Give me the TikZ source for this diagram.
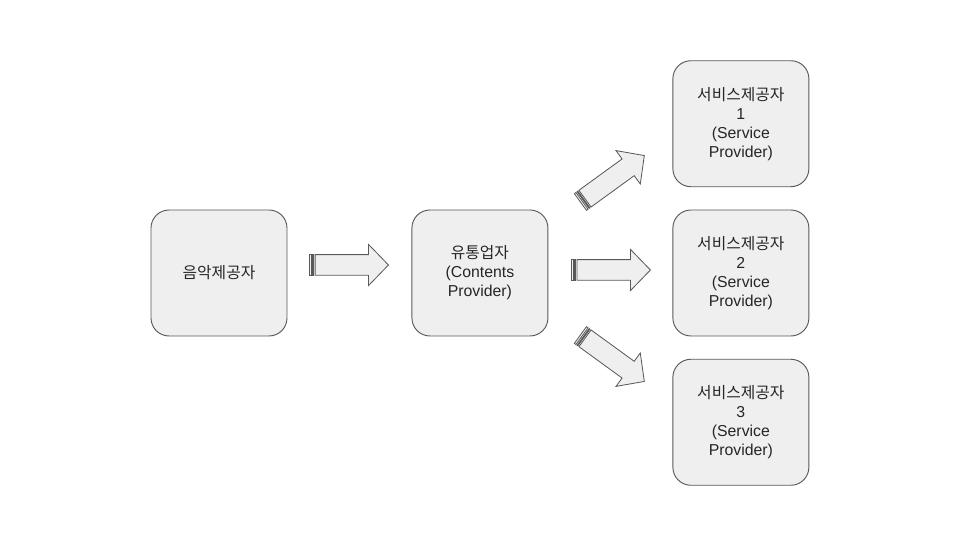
\documentclass[tikz,border=0pt]{standalone}
\usepackage{fontspec}
\setmainfont{Liberation Sans}
\newfontfamily\kr{Noto Sans CJK KR}
\usetikzlibrary{positioning,calc}

\definecolor{boxFill}{HTML}{EFEFEF}
\definecolor{boxLine}{HTML}{595959}

\begin{document}
\begin{tikzpicture}[line width=0.8pt]

\tikzset{
	company/.style={
		fill=boxFill,
		draw=boxLine,
		rounded corners=0.54cm,
		minimum width=4.08cm,
		minimum height=3.78cm,
		inner sep=0pt,
		align=center,
		text=black!85,
		font=\fontsize{13.5}{16.2}\selectfont
	}
}

\tikzset{
	arrowLine/.style={
		fill=boxFill,
		draw=boxLine,
		line width=0.7pt,
		line join=miter
	}
}

\tikzset{
	stripedArrow/.pic={
		\filldraw[arrowLine] (0,-0.31) rectangle (0.06,0.31);
		\filldraw[arrowLine] (0.1,-0.31) rectangle (0.13,0.31);
		\filldraw[arrowLine] (0.17,-0.31) -- (1.77,-0.31) -- (1.77,-0.62) -- (2.37,0)
			-- (1.77,0.62) -- (1.77,0.31) -- (0.17,0.31) -- cycle;
	}
}

\useasboundingbox (0,0) rectangle (28.8,16.2);

\node[company](Music) at (6.57,8.01) {{\kr 음악제공자}};
\node[company](Dist) [right=3.72cm of Music] {{\kr 유통업자}\\(Contents\\Provider)};

\node[company](SP2) [right=3.72cm of Dist] {{\kr 서비스제공자}\\2\\(Service\\Provider)};
\node[company](SP1) [above=0.67cm of SP2] {{\kr 서비스제공자}\\1\\(Service\\Provider)};
\node[company](SP3) [below=0.67cm of SP2] {{\kr 서비스제공자}\\3\\(Service\\Provider)};

\pic (toDist) at ($(Music.east)+(0.66,0.24)$) {stripedArrow};
\pic (toSP2) at ($(Dist.east)+(0.69,0.09)$) {stripedArrow};
\pic[rotate=36] (toSP1) at ($(Dist.east)+(0.96,2.13)$) {stripedArrow};
\pic[rotate=-36] (toSP3) at ($(Dist.east)+(0.96,-1.86)$) {stripedArrow};

\end{tikzpicture}
\end{document}
